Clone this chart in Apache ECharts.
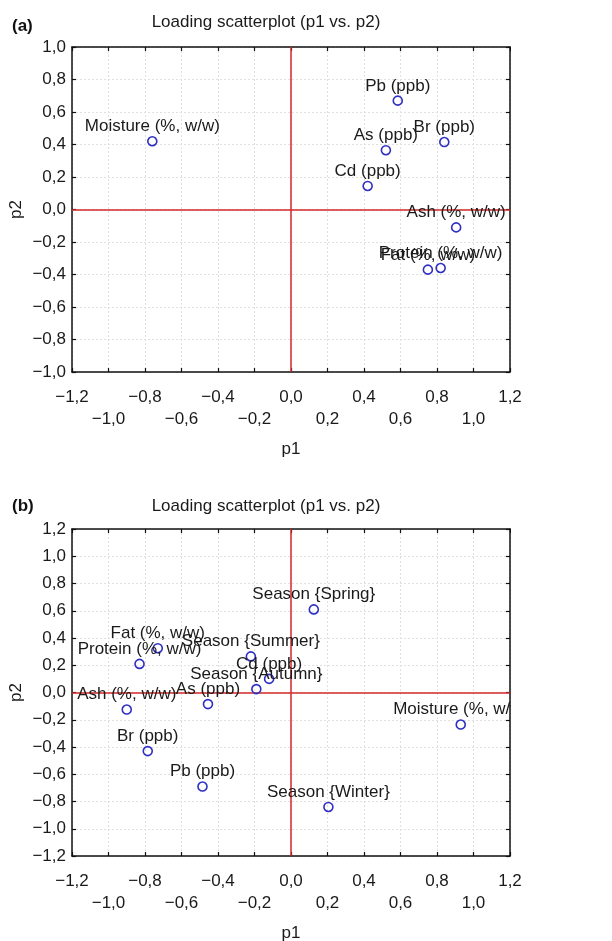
<!DOCTYPE html>
<html>
<head>
<meta charset="utf-8">
<script src="https://cdn.jsdelivr.net/npm/echarts@6/dist/echarts.min.js"></script>
<style>
html,body{margin:0;padding:0;background:#fff;}
#chart{width:612px;height:941px;}
</style>
</head>
<body>
<div id="chart"></div>
<script>
// Panel (a)
const namesA = ['Moisture (%, w/w)', 'Pb (ppb)', 'As (ppb)', 'Br (ppb)', 'Cd (ppb)', 'Ash (%, w/w)', 'Fat (%, w/w)', 'Protein (%, w/w)'];
const p1A = [-0.76, 0.585, 0.52, 0.84, 0.42, 0.905, 0.75, 0.82];
const p2A = [0.42, 0.67, 0.365, 0.415, 0.145, -0.11, -0.37, -0.36];
// Panel (b)
const namesB = ['Season {Spring}', 'Fat (%, w/w)', 'Protein (%, w/w)', 'Season {Summer}', 'Cd (ppb)', 'Season {Autumn}', 'As (ppb)', 'Ash (%, w/w)', 'Br (ppb)', 'Moisture (%, w/w)', 'Pb (ppb)', 'Season {Winter}'];
const p1B = [0.125, -0.73, -0.83, -0.22, -0.12, -0.19, -0.455, -0.90, -0.785, 0.93, -0.485, 0.205];
const p2B = [0.61, 0.325, 0.21, 0.265, 0.10, 0.025, -0.085, -0.125, -0.43, -0.235, -0.69, -0.84];
// Axis ranges and tick step
const xRange = [-1.2, 1.2];
const yRangeA = [-1.0, 1.0];
const yRangeB = [-1.2, 1.2];
const tickStep = 0.2;

const FONT = '"Liberation Sans", Arial, sans-serif';
const TXT = '#1a1a1a';
const fmt = v => {
  if (Math.abs(v) < 1e-9) v = 0;
  return v.toFixed(1).replace('.', ',').replace('-', '\u2212');
};

const chart = echarts.init(document.getElementById('chart'), null, {renderer: 'canvas'});

const grids = [
  {left: 72, width: 438, top: 47, height: 325},
  {left: 72, width: 438, top: 529, height: 327}
];

function xAxes(gi) {
  const base = {
    gridIndex: gi, type: 'value', min: xRange[0], max: xRange[1], interval: tickStep,
    axisLine: {show: true, onZero: false, lineStyle: {color: '#111', width: 1.5}},
    axisTick: {show: true, inside: true, length: 4, lineStyle: {color: '#111', width: 1.2}},
  };
  return [
    Object.assign({}, base, {
      position: 'bottom',
      name: 'p1', nameLocation: 'middle', nameGap: 69,
      nameTextStyle: {fontFamily: FONT, fontSize: 17, color: TXT},
      axisLabel: {
        show: true, margin: 14, fontFamily: FONT, fontSize: 17, color: TXT, lineHeight: 22,
        formatter: (v, i) => (i % 2 ? '\n' + fmt(v) : fmt(v))
      },
      splitLine: {show: true, lineStyle: {color: '#e0e0e0', width: 1, type: [2, 2]}}
    }),
    Object.assign({}, base, {
      position: 'top', axisLabel: {show: false}, splitLine: {show: false}
    })
  ];
}

function yAxes(gi, range) {
  const base = {
    gridIndex: gi, type: 'value', min: range[0], max: range[1], interval: tickStep,
    axisLine: {show: true, onZero: false, lineStyle: {color: '#111', width: 1.5}},
    axisTick: {show: true, inside: true, length: 4, lineStyle: {color: '#111', width: 1.2}},
  };
  return [
    Object.assign({}, base, {
      position: 'left',
      name: 'p2', nameLocation: 'middle', nameGap: 47, nameRotate: 90, nameMoveOverlap: false,
      nameTextStyle: {fontFamily: FONT, fontSize: 17, color: TXT},
      axisLabel: {show: true, margin: 6, fontFamily: FONT, fontSize: 17, color: TXT, formatter: v => fmt(v)},
      splitLine: {show: true, lineStyle: {color: '#e0e0e0', width: 1, type: [2, 2]}}
    }),
    Object.assign({}, base, {
      position: 'right', axisLabel: {show: false}, splitLine: {show: false}
    })
  ];
}

function scatterSeries(gi, names, xs, ys, axisBase) {
  return {
    type: 'scatter',
    xAxisIndex: axisBase, yAxisIndex: axisBase,
    symbol: 'circle', symbolSize: 9,
    itemStyle: {color: 'rgba(255,255,255,0)', borderColor: '#2f2fc4', borderWidth: 1.6, opacity: 1},
    label: {
      show: true, position: 'top', distance: 1,
      formatter: p => p.data.name,
      fontFamily: FONT, fontSize: 17, color: TXT, lineHeight: 17, opacity: 1
    },
    labelLayout: {hideOverlap: false},
    emphasis: {disabled: true},
    silent: true,
    z: 5,
    data: names.map((n, i) => ({name: n, value: [xs[i], ys[i]]})),
    markLine: {
      silent: true, symbol: ['none', 'none'], animation: false,
      label: {show: false},
      lineStyle: {color: '#d42a2a', width: 1.5, type: 'solid'},
      data: [{xAxis: 0}, {yAxis: 0}],
      z: 3
    }
  };
}

const option = {
  animation: false,
  backgroundColor: '#fff',
  grid: grids.map(g => Object.assign({outerBoundsMode: 'none', containLabel: false}, g)),
  xAxis: [...xAxes(0), ...xAxes(1)],
  yAxis: [...yAxes(0, yRangeA), ...yAxes(1, yRangeB)],
  series: [
    scatterSeries(0, namesA, p1A, p2A, 0),
    scatterSeries(1, namesB, p1B, p2B, 2)
  ],
  graphic: [
    {type: 'rect', z: 100, shape: {x: 511, y: 40, width: 101, height: 325}, style: {fill: '#fff'}},
    {type: 'rect', z: 100, shape: {x: 511, y: 520, width: 101, height: 330}, style: {fill: '#fff'}},
    {type: 'text', z: 101, x: 266, y: 22, style: {text: 'Loading scatterplot (p1 vs. p2)', align: 'center', verticalAlign: 'middle', font: '17px ' + FONT, fill: TXT}},
    {type: 'text', z: 101, x: 12, y: 26, style: {text: '(a)', align: 'left', verticalAlign: 'middle', font: 'bold 17px ' + FONT, fill: '#111'}},
    {type: 'text', z: 101, x: 266, y: 506, style: {text: 'Loading scatterplot (p1 vs. p2)', align: 'center', verticalAlign: 'middle', font: '17px ' + FONT, fill: TXT}},
    {type: 'text', z: 101, x: 12, y: 506, style: {text: '(b)', align: 'left', verticalAlign: 'middle', font: 'bold 17px ' + FONT, fill: '#111'}}
  ]
};

chart.setOption(option);
</script>
</body>
</html>
